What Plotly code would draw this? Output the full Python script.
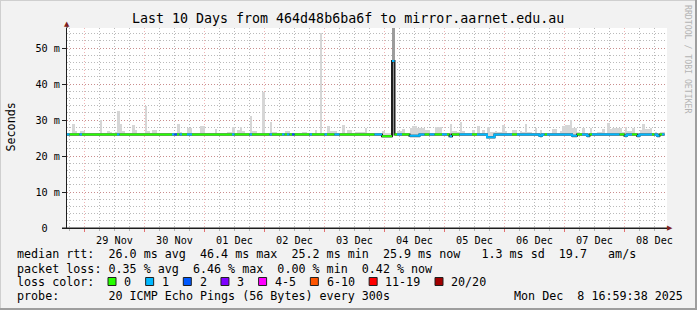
import plotly.graph_objects as go
from datetime import datetime, timedelta

# ---------------- data ----------------
TITLE = "Last 10 Days from 464d48b6ba6f to mirror.aarnet.edu.au"
START = datetime(2025, 11, 28, 17, 0)
SPAN_DAYS = 10

# hourly max of the smoke (ms)
smoke_max = [
    26.5, 26.5, 28.9, 27.0, 26.5, 27.0, 27.0, 26.3, 26.3, 26.3, 26.3, 26.3, 26.5, 30.0, 26.5, 26.3, 27.0, 26.8, 26.5, 26.8,
    32.5, 29.0, 27.0, 26.5, 26.5, 26.5, 28.6, 27.3, 26.5, 26.5, 26.5, 33.9, 27.0, 26.5, 27.3, 27.3, 26.5, 26.5, 26.3, 26.5,
    26.3, 26.3, 26.5, 26.5, 29.0, 26.8, 26.3, 26.3, 27.9, 27.9, 26.3, 26.3, 26.5, 28.3, 28.3, 26.3, 26.3, 26.3, 26.5, 27.5,
    26.5, 26.5, 26.3, 26.5, 26.8, 26.8, 28.0, 26.5, 27.3, 28.0, 27.0, 26.5, 26.5, 31.0, 27.0, 27.0, 26.5, 26.5, 37.8, 26.5,
    26.5, 29.5, 26.8, 26.8, 26.3, 26.3, 26.5, 27.0, 27.0, 26.3, 26.3, 26.3, 26.3, 26.5, 26.6, 26.6, 26.3, 26.3, 26.5, 27.2,
    26.5, 54.1, 26.5, 26.5, 28.3, 27.0, 27.0, 27.0, 26.5, 26.3, 28.6, 26.5, 27.2, 27.2, 26.5, 26.8, 26.8, 26.8, 26.8, 27.9,
    26.5, 26.3, 26.3, 26.3, 26.3, 26.3, 27.0, 26.3, 26.3, 26.3, 57.0, 26.5, 27.0, 27.0, 27.4, 26.5, 26.5, 27.9, 28.3, 28.3,
    27.9, 27.9, 27.9, 27.2, 27.2, 26.5, 26.5, 28.1, 28.1, 28.1, 26.5, 26.5, 26.5, 29.0, 27.0, 27.0, 26.8, 29.5, 27.0, 26.5,
    26.5, 26.3, 27.2, 26.5, 28.3, 26.5, 27.2, 26.5, 28.0, 26.8, 26.8, 27.0, 26.8, 26.8, 28.6, 27.0, 26.3, 26.3, 27.2, 27.2,
    26.5, 27.0, 26.8, 28.8, 26.8, 26.8, 26.5, 27.8, 26.5, 27.2, 26.3, 26.3, 26.5, 26.5, 27.4, 27.4, 26.5, 27.0, 28.3, 28.6,
    28.6, 30.0, 27.8, 27.8, 26.8, 26.5, 27.8, 26.3, 26.5, 27.8, 26.5, 26.5, 26.8, 26.8, 27.4, 26.5, 29.3, 27.6, 27.8, 27.8,
    27.8, 27.8, 26.8, 28.1, 27.0, 27.0, 27.8, 26.5, 26.5, 27.2, 28.8, 27.6, 27.6, 27.8, 26.5, 26.8, 26.5, 26.8, 26.8,
]

# hourly median rtt (ms)
median_rtt = [
    26.0, 26.0, 26.0, 26.0, 26.0, 26.0, 26.0, 26.0, 26.0, 26.0, 26.0, 26.0, 26.0, 26.0, 26.0, 26.0, 26.0, 26.0, 26.0, 26.0,
    26.0, 26.0, 26.0, 26.0, 26.0, 26.0, 26.0, 26.0, 26.0, 26.0, 26.0, 26.0, 26.0, 26.0, 26.0, 26.0, 26.0, 26.0, 26.0, 26.0,
    26.0, 26.0, 26.0, 26.0, 26.0, 26.0, 26.0, 26.0, 26.0, 26.0, 26.0, 26.0, 26.0, 26.0, 26.0, 26.0, 26.0, 26.0, 26.0, 26.0,
    26.0, 26.0, 26.0, 26.0, 26.0, 26.0, 26.0, 26.0, 26.0, 26.0, 26.0, 26.0, 26.0, 26.0, 26.0, 26.0, 26.0, 26.0, 26.0, 26.0,
    26.0, 26.0, 26.0, 26.0, 26.0, 26.0, 26.0, 26.0, 26.0, 26.0, 26.0, 26.0, 26.0, 26.0, 26.0, 26.0, 26.0, 26.0, 26.0, 26.0,
    26.0, 26.0, 26.0, 26.0, 26.0, 26.0, 26.0, 26.0, 26.0, 26.0, 26.0, 26.0, 26.0, 26.0, 26.0, 26.0, 26.0, 26.0, 26.0, 26.0,
    26.0, 26.0, 26.0, 26.0, 26.0, 26.0, 25.5, 25.5, 25.5, 25.5, 46.4, 26.0, 26.0, 26.0, 26.0, 26.0, 26.0, 25.6, 25.6, 25.6,
    25.6, 26.0, 26.0, 26.0, 26.0, 26.0, 26.0, 26.0, 26.0, 26.0, 26.0, 26.0, 26.0, 25.5, 26.0, 26.0, 26.0, 26.0, 26.0, 26.0,
    26.0, 26.0, 26.0, 26.0, 26.0, 26.0, 26.0, 26.0, 25.2, 25.2, 25.2, 26.0, 26.0, 26.0, 26.0, 26.0, 26.0, 26.0, 26.0, 26.0,
    26.0, 26.0, 26.0, 26.0, 26.0, 26.0, 26.0, 26.0, 26.0, 25.6, 26.0, 26.0, 26.0, 26.0, 26.0, 26.0, 26.0, 26.0, 26.0, 26.0,
    26.0, 26.0, 25.6, 25.6, 26.0, 26.0, 26.0, 26.0, 25.6, 26.0, 26.0, 26.0, 26.0, 26.0, 26.0, 26.0, 26.0, 26.0, 26.0, 26.0,
    26.0, 26.0, 26.0, 25.6, 26.0, 26.0, 26.0, 26.0, 25.6, 26.0, 26.0, 26.0, 26.0, 26.0, 26.0, 26.0, 25.6, 26.0, 26.0,
]

# hourly loss class (index into loss_colors)
loss_class = [
    1, 0, 0, 0, 0, 1, 0, 0, 0, 0, 0, 0, 0, 0, 0, 0, 0, 0, 0, 0,
    1, 0, 0, 0, 0, 0, 0, 0, 0, 0, 0, 0, 0, 0, 0, 0, 0, 0, 0, 0,
    0, 0, 1, 2, 0, 1, 0, 0, 1, 1, 0, 0, 0, 0, 0, 0, 0, 0, 0, 0,
    0, 0, 0, 0, 0, 0, 1, 0, 0, 0, 0, 0, 0, 1, 0, 0, 0, 0, 0, 0,
    0, 1, 0, 0, 0, 0, 1, 0, 1, 0, 2, 0, 0, 0, 0, 0, 0, 1, 0, 0,
    0, 0, 0, 1, 0, 0, 0, 1, 1, 0, 0, 0, 0, 0, 0, 0, 0, 0, 0, 0,
    0, 0, 0, 1, 1, 1, 0, 0, 0, 0, 1, 0, 1, 1, 0, 0, 0, 1, 1, 1,
    1, 1, 1, 0, 0, 1, 1, 0, 0, 0, 1, 1, 0, 1, 0, 0, 0, 1, 1, 1,
    1, 1, 0, 0, 1, 1, 1, 1, 1, 1, 1, 1, 1, 1, 1, 1, 1, 1, 0, 0,
    1, 1, 1, 1, 1, 1, 1, 1, 1, 1, 1, 0, 1, 1, 1, 1, 1, 1, 1, 1,
    1, 1, 1, 1, 0, 0, 1, 1, 1, 0, 1, 1, 1, 1, 1, 1, 1, 1, 1, 1,
    1, 0, 0, 1, 1, 1, 0, 0, 1, 1, 1, 1, 1, 1, 0, 1, 1, 0, 1,
]

loss_colors = ["#26ff00", "#00b8ff", "#0059ff", "#7e00ff", "#ff00ff", "#ff5500", "#ff0000", "#a10000"]
loss_labels = ["0", "1", "2", "3", "4-5", "6-10", "11-19", "20/20"]

y_tickvals = [0, 10, 20, 30, 40, 50]
y_ticktext = ["0  ", "10 m", "20 m", "30 m", "40 m", "50 m"]

stat_rtt = "median rtt:  26.0 ms avg  46.4 ms max  25.2 ms min  25.9 ms now   1.3 ms sd  19.7   am/s"
stat_loss = "packet loss: 0.35 % avg  6.46 % max  0.00 % min  0.42 % now"
loss_title = "loss color:"
probe_text = "probe:       20 ICMP Echo Pings (56 Bytes) every 300s"
stamp_text = "Mon Dec  8 16:59:38 2025"
y_title = "Seconds"
side_text = "RRDTOOL / TOBI OETIKER"

# ---------------- figure ----------------
n = len(smoke_max)
assert len(median_rtt) == n and len(loss_class) == n, (len(smoke_max), len(median_rtt), len(loss_class))

W, H = 697, 310
L, R, T, B = 67, 30, 28, 82
PW, PH = W - L - R, H - T - B
MONO = "DejaVu Sans Mono"
MGRID = "rgba(222,79,79,0.42)"
GRID = "rgba(130,130,130,0.55)"


def px_x(px):
    return (px - L) / PW


def px_y(py):
    return (H - B - py) / PH


def nb(s):
    return s.replace(" ", "\u00a0")


edges = [START + timedelta(hours=i) for i in range(n + 1)]
centers = [START + timedelta(hours=i + 0.5) for i in range(n)]
smoke_base = [m - 0.5 for m in median_rtt]
smoke_colors = ["#9c9c9c" if m > 40 else "#d6d6d6" for m in median_rtt]

fig = go.Figure()
fig.add_trace(go.Bar(
    x=centers, y=[s - b for s, b in zip(smoke_max, smoke_base)], base=smoke_base,
    width=3600000, marker=dict(color=smoke_colors, line=dict(width=0)), hoverinfo="skip"))

# dark base line of the median (shows at colour transitions)
fig.add_trace(go.Scatter(
    x=edges, y=median_rtt + [median_rtt[-1]], mode="lines", line_shape="hv",
    line=dict(color="#1f1f1f", width=2), hoverinfo="skip"))

for cls, col in enumerate(loss_colors):
    xs, ys = [], []
    i = 0
    while i < n:
        if loss_class[i] == cls:
            j = i
            while j + 1 < n and loss_class[j + 1] == cls:
                j += 1
            for k in range(i, j + 1):
                xs.append(edges[k])
                ys.append(median_rtt[k])
            xs.append(edges[j + 1])
            ys.append(median_rtt[j])
            xs.append(None)
            ys.append(None)
            i = j + 1
        else:
            i += 1
    if xs:
        fig.add_trace(go.Scatter(x=xs, y=ys, mode="lines", line_shape="hv",
                                 line=dict(color=col, width=2), hoverinfo="skip"))

annotations = []
shapes = []

annotations.append(dict(x=px_x(347.5), y=px_y(18.5), text=nb(TITLE), xanchor="center", yanchor="middle",
                        font=dict(family=MONO, size=13.3, color="#000")))
annotations.append(dict(x=px_x(10.5), y=px_y(127), text=y_title, textangle=-90, xanchor="center",
                        yanchor="middle", font=dict(family=MONO, size=11.7, color="#000")))
annotations.append(dict(x=px_x(688), y=px_y(59), text=nb(side_text), textangle=90, xanchor="center",
                        yanchor="middle", font=dict(family=MONO, size=8.2, color="#b4b4b4")))

for txt, yy in [(stat_rtt, 254.3), (stat_loss, 268.5), (loss_title, 282.0), (probe_text, 296.0)]:
    annotations.append(dict(x=px_x(15), y=px_y(yy), text=nb(txt), xanchor="left", yanchor="middle",
                            font=dict(family=MONO, size=11.7, color="#000")))
annotations.append(dict(x=px_x(511.7), y=px_y(296.0), text=nb(stamp_text), xanchor="left", yanchor="middle",
                        font=dict(family=MONO, size=11.7, color="#000")))

# loss colour swatches
s = 108.0
for col, lab in zip(loss_colors, loss_labels):
    shapes.append(dict(type="rect", xref="paper", yref="paper", x0=px_x(s), x1=px_x(s + 8),
                       y0=px_y(285.5), y1=px_y(277.5), fillcolor=col, line=dict(color="#1f1f1f", width=1)))
    lx = s + 15.3
    annotations.append(dict(x=px_x(lx - 1), y=px_y(282.0), text=lab, xanchor="left", yanchor="middle",
                            font=dict(family=MONO, size=11.7, color="#000")))
    s = lx + len(lab) * 7.05 + 15.3

# arrows on the axes
annotations.append(dict(x=px_x(67), y=px_y(24), text="\u25b2", xanchor="center", yanchor="middle",
                        font=dict(family="DejaVu Sans", size=7, color="#801f1f")))
annotations.append(dict(x=px_x(670), y=px_y(228), text="\u25b6", xanchor="center", yanchor="middle",
                        font=dict(family="DejaVu Sans", size=7, color="#801f1f")))
for a in annotations:
    a.update(xref="paper", yref="paper", showarrow=False)

# axis extensions and frame
shapes.append(dict(type="line", xref="paper", yref="paper", x0=0, x1=0, y0=1, y1=px_y(24),
                   line=dict(color="#1f1f1f", width=1)))
shapes.append(dict(type="line", xref="paper", yref="paper", x0=px_x(62), x1=px_x(668), y0=0, y1=0,
                   line=dict(color="#1f1f1f", width=1)))
shapes.append(dict(type="line", xref="paper", yref="paper", x0=px_x(0), x1=px_x(697), y0=px_y(0.5), y1=px_y(0.5),
                   line=dict(color="#cfcfcf", width=1)))
shapes.append(dict(type="line", xref="paper", yref="paper", x0=px_x(0.5), x1=px_x(0.5), y0=px_y(0), y1=px_y(310),
                   line=dict(color="#cfcfcf", width=1)))
shapes.append(dict(type="line", xref="paper", yref="paper", x0=px_x(0), x1=px_x(697), y0=px_y(309), y1=px_y(309),
                   line=dict(color="#9e9e9e", width=2)))
shapes.append(dict(type="line", xref="paper", yref="paper", x0=px_x(696), x1=px_x(696), y0=px_y(0), y1=px_y(310),
                   line=dict(color="#9e9e9e", width=2)))

fig.update_layout(
    width=W, height=H, margin=dict(l=L, r=R, t=T, b=B, pad=0),
    paper_bgcolor="#f2f2f2", plot_bgcolor="#ffffff",
    showlegend=False, bargap=0, barmode="overlay",
    font=dict(family=MONO, size=10.2, color="#000"),
    annotations=annotations, shapes=shapes,
    xaxis=dict(
        type="date", range=[START, START + timedelta(days=SPAN_DAYS)],
        tick0="2025-11-29", dtick=86400000, ticklabelmode="period", tickformat="%d %b",
        showgrid=True, gridcolor=MGRID, griddash="1px,2px", gridwidth=1,
        ticks="outside", ticklen=3, tickcolor="rgba(222,79,79,0.8)",
        showline=True, linecolor="#1f1f1f", linewidth=1, zeroline=False, fixedrange=True,
        minor=dict(dtick=21600000, tick0="2025-11-29", showgrid=True, gridcolor=GRID,
                   griddash="1px,2px", ticks="outside", ticklen=2, tickcolor=GRID),
    ),
    yaxis=dict(
        range=[0, PH / 3.6], tickvals=y_tickvals, ticktext=[nb(t) for t in y_ticktext],
        showgrid=True, gridcolor=MGRID, griddash="1px,2px", gridwidth=1,
        ticks="outside", ticklen=4, tickcolor="#1f1f1f",
        showline=True, linecolor="#1f1f1f", linewidth=1, zeroline=False, fixedrange=True,
        minor=dict(dtick=2, showgrid=True, gridcolor=GRID, griddash="1px,2px"),
    ),
)

fig.write_html("out.html")
